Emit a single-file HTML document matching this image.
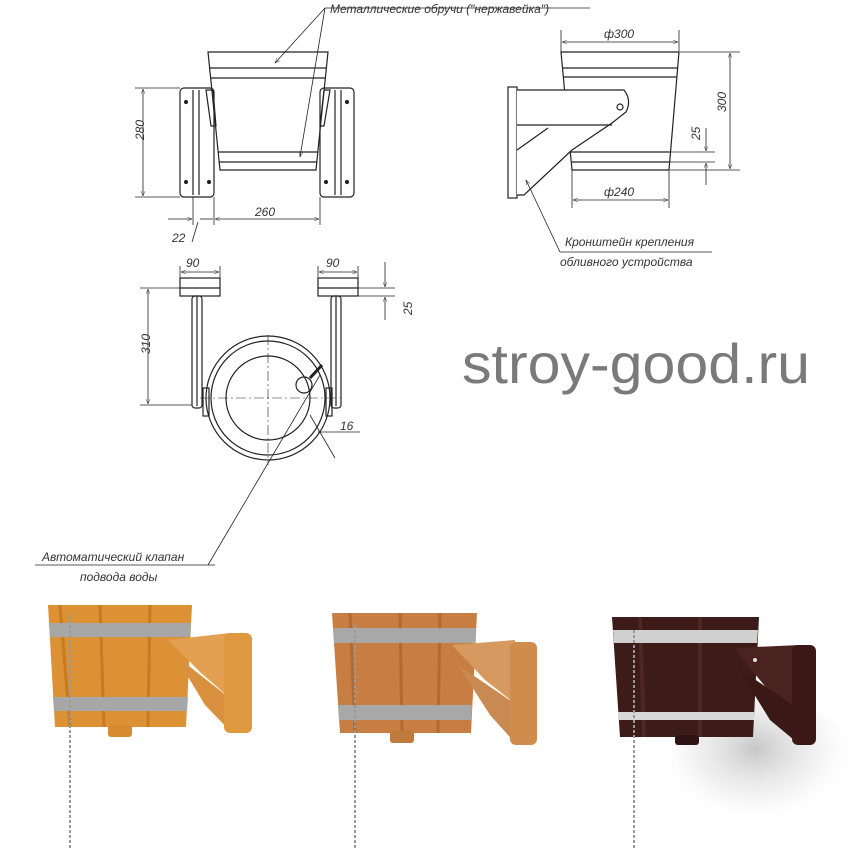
<!DOCTYPE html>
<html><head><meta charset="utf-8"><style>
html,body{margin:0;padding:0;background:#fff;}
svg{display:block}
.t{font-family:"Liberation Sans","DejaVu Sans",sans-serif;font-style:italic;fill:#333;}
</style></head><body>
<svg width="850" height="850" viewBox="0 0 850 850" xmlns="http://www.w3.org/2000/svg">
<defs>
<marker id="a" viewBox="0 0 10 10" refX="10" refY="5" markerWidth="10" markerHeight="6" orient="auto-start-reverse"><path d="M0,1 L10,5 L0,9" fill="none" stroke="#333" stroke-width="1"/></marker>
<radialGradient id="sh" cx="0.45" cy="0.35" r="0.55"><stop offset="0" stop-color="#999" stop-opacity="0.55"/><stop offset="0.6" stop-color="#ccc" stop-opacity="0.25"/><stop offset="1" stop-color="#fff" stop-opacity="0"/></radialGradient>
</defs>
<g fill="none" stroke="#222" stroke-width="1.2">
<!-- FRONT VIEW -->
<path d="M208,52 L328,52 L316,170 L220,170 Z"/>
<line x1="210" y1="68" x2="326" y2="68"/><line x1="211" y1="78" x2="325" y2="78"/>
<line x1="218" y1="152" x2="318" y2="152"/><line x1="219" y1="162" x2="317" y2="162"/>
<rect x="180" y="88" width="34" height="109" rx="4"/>
<line x1="193" y1="90" x2="193" y2="195"/><line x1="199" y1="90" x2="199" y2="195"/>
<rect x="320" y="88" width="34" height="109" rx="4"/>
<line x1="335" y1="90" x2="335" y2="195"/><line x1="341" y1="90" x2="341" y2="195"/>
<path d="M206,90 L213,90 L216,126 L211,126 Z"/><path d="M324,90 L330,90 L324,126 L320,126 Z"/>
<g fill="#222"><circle cx="186" cy="102" r="1.5"/><circle cx="186" cy="182" r="1.5"/><circle cx="209" cy="182" r="1.5"/><circle cx="347" cy="102" r="1.5"/><circle cx="326" cy="182" r="1.5"/><circle cx="347" cy="182" r="1.5"/></g>
<g stroke-width="0.8">
<line x1="135" y1="88" x2="180" y2="88"/><line x1="135" y1="197" x2="180" y2="197"/>
<line x1="143" y1="89" x2="143" y2="196" marker-start="url(#a)" marker-end="url(#a)"/>
<line x1="193" y1="197" x2="193" y2="225"/><line x1="214" y1="197" x2="214" y2="225"/><line x1="320" y1="197" x2="320" y2="225"/>
<line x1="215" y1="219" x2="319" y2="219" marker-start="url(#a)" marker-end="url(#a)"/>
<line x1="168" y1="219" x2="192" y2="219" marker-end="url(#a)"/>
<line x1="200" y1="219" x2="213" y2="219"/>
<line x1="198" y1="222" x2="192" y2="242"/>
<line x1="325" y1="8" x2="275" y2="63" marker-end="url(#a)"/>
<line x1="325" y1="8" x2="300" y2="157" marker-end="url(#a)"/>
<line x1="325" y1="8" x2="590" y2="8"/>
</g>
<!-- SIDE VIEW -->
<path d="M561,52 L679,52 L669,170 L572,170 Z"/>
<line x1="562" y1="68" x2="678" y2="68"/><line x1="563" y1="77" x2="677" y2="77"/>
<line x1="571" y1="152" x2="670" y2="152"/><line x1="572" y1="162" x2="669" y2="162"/>
<rect x="508" y="87" width="9" height="111" fill="#fff"/>
<path d="M517,90 L624,90 Q632,100 626,112 L612,123 L572,150 L524,195 L517,195" fill="#fff"/>
<line x1="517" y1="125" x2="612" y2="125"/><line x1="517" y1="150" x2="548" y2="128"/>
<circle cx="620" cy="107" r="3"/>
<g stroke-width="0.8">
<line x1="561" y1="30" x2="561" y2="52"/><line x1="679" y1="30" x2="679" y2="52"/>
<line x1="562" y1="42" x2="678" y2="42" marker-start="url(#a)" marker-end="url(#a)"/>
<line x1="680" y1="52" x2="740" y2="52"/><line x1="670" y1="170" x2="740" y2="170"/>
<line x1="730" y1="53" x2="730" y2="169" marker-start="url(#a)" marker-end="url(#a)"/>
<line x1="670" y1="152" x2="715" y2="152"/><line x1="670" y1="162" x2="715" y2="162"/>
<line x1="706" y1="128" x2="706" y2="151" marker-end="url(#a)"/><line x1="706" y1="185" x2="706" y2="163" marker-end="url(#a)"/>
<line x1="572" y1="170" x2="572" y2="208"/><line x1="669" y1="170" x2="669" y2="208"/>
<line x1="573" y1="200" x2="668" y2="200" marker-start="url(#a)" marker-end="url(#a)"/>
<line x1="560" y1="252" x2="526" y2="180" marker-end="url(#a)"/>
<line x1="560" y1="252" x2="712" y2="252"/>
</g>
<!-- TOP VIEW -->
<rect x="180" y="278" width="40" height="18"/><line x1="180" y1="288" x2="220" y2="288"/>
<rect x="318" y="278" width="40" height="18"/><line x1="318" y1="288" x2="358" y2="288"/>
<rect x="192" y="296" width="10" height="112" rx="3"/><line x1="197" y1="296" x2="197" y2="406"/>
<rect x="331" y="296" width="10" height="112" rx="3"/><line x1="336" y1="296" x2="336" y2="406"/>
<rect x="203" y="388" width="6" height="28"/><rect x="326" y="388" width="6" height="28"/>
<circle cx="268" cy="398" r="62"/><circle cx="268" cy="398" r="57"/><circle cx="268" cy="398" r="42"/>
<circle cx="304" cy="385" r="8"/><line x1="310" y1="378" x2="322" y2="365" stroke-width="3"/>
<g stroke-width="0.6" stroke-dasharray="10,3,2,3"><line x1="268" y1="335" x2="268" y2="465"/><line x1="200" y1="398" x2="340" y2="398"/></g>
<g stroke-width="0.8">
<line x1="140" y1="288" x2="180" y2="288"/><line x1="140" y1="405" x2="192" y2="405"/>
<line x1="148" y1="289" x2="148" y2="404" marker-start="url(#a)" marker-end="url(#a)"/>
<line x1="180" y1="266" x2="180" y2="278"/><line x1="220" y1="266" x2="220" y2="278"/>
<line x1="181" y1="272" x2="219" y2="272" marker-start="url(#a)" marker-end="url(#a)"/>
<line x1="318" y1="266" x2="318" y2="278"/><line x1="358" y1="266" x2="358" y2="278"/>
<line x1="319" y1="272" x2="357" y2="272" marker-start="url(#a)" marker-end="url(#a)"/>
<line x1="358" y1="288" x2="395" y2="288"/><line x1="358" y1="296" x2="395" y2="296"/>
<line x1="385" y1="262" x2="385" y2="287" marker-end="url(#a)"/><line x1="385" y1="320" x2="385" y2="297" marker-end="url(#a)"/>
<line x1="310" y1="415" x2="335" y2="458"/><line x1="318" y1="432" x2="360" y2="432"/>
<line x1="320" y1="375" x2="208" y2="565"/>
<line x1="35" y1="565" x2="215" y2="565"/>
</g>
</g>
<!-- labels -->
<text class="t" x="330" y="13" font-size="12">Металлические обручи ("нержавейка")</text>
<text class="t" x="148" y="152" font-size="12" transform="rotate(-90 140 148)">280</text>
<text class="t" x="255" y="216" font-size="12">260</text>
<text class="t" x="172" y="242" font-size="12">22</text>
<text class="t" x="604" y="38" font-size="12">ф300</text>
<text class="t" x="726" y="112" font-size="12" transform="rotate(-90 726 112)">300</text>
<text class="t" x="700" y="140" font-size="12" transform="rotate(-90 700 140)">25</text>
<text class="t" x="604" y="196" font-size="12">ф240</text>
<text class="t" x="565" y="246" font-size="12">Кронштейн крепления</text>
<text class="t" x="560" y="266" font-size="12">обливного устройства</text>
<text class="t" x="186" y="267" font-size="12">90</text>
<text class="t" x="326" y="267" font-size="12">90</text>
<text class="t" x="140" y="360" font-size="12" transform="rotate(-90 142 352)">310</text>
<text class="t" x="402" y="325" font-size="12" transform="rotate(-90 402 315)">25</text>
<text class="t" x="340" y="430" font-size="12">16</text>
<text class="t" x="42" y="561" font-size="12">Автоматический клапан</text>
<text class="t" x="80" y="581" font-size="12">подвода воды</text>
<text x="462" y="383" font-family="Liberation Sans, sans-serif" font-size="56" fill="#7a7a7a" textLength="348" lengthAdjust="spacingAndGlyphs">stroy-good.ru</text>
<!-- PHOTOS -->
<ellipse cx="765" cy="770" rx="95" ry="70" fill="url(#sh)"/>
<g>
<path d="M48,605 L192,605 L186,727 L55,727 Z" fill="#dc9234"/>
<path d="M60,605 L70,727 M100,605 L104,727 M150,605 L148,727" stroke="#c77a22" stroke-width="3"/>
<path d="M49,623 L191,623 L190,637 L50,637 Z" fill="#a7a7a7"/>
<path d="M53,697 L188,697 L187,711 L54,711 Z" fill="#a7a7a7"/>
<rect x="108" y="725" width="24" height="12" rx="3" fill="#d68a30"/>
<path d="M168,640 L230,633 L232,700 L200,672 Z" fill="#e3a052"/>
<path d="M175,655 L205,705 L232,733 L232,700 Z" fill="#d9913f"/>
<rect x="224" y="633" width="28" height="100" rx="6" fill="#dd9840"/>
<line x1="70" y1="615" x2="70" y2="850" stroke="#999" stroke-width="2" stroke-dasharray="3,2"/>
</g>
<g>
<path d="M332,613 L477,613 L471,733 L340,733 Z" fill="#c87e42"/>
<path d="M350,613 L355,733 M400,613 L402,733 M440,613 L438,733" stroke="#b36a30" stroke-width="3"/>
<path d="M333,628 L476,628 L475,643 L334,643 Z" fill="#a8a8a8"/>
<path d="M338,705 L472,705 L471,720 L339,720 Z" fill="#a8a8a8"/>
<rect x="390" y="731" width="24" height="12" rx="3" fill="#c07a3c"/>
<path d="M452,645 L515,640 L517,705 L485,680 Z" fill="#d69a60"/>
<path d="M458,665 L490,715 L517,745 L517,705 Z" fill="#c88a50"/>
<rect x="510" y="642" width="27" height="103" rx="6" fill="#cf8c4c"/>
<line x1="355" y1="625" x2="355" y2="850" stroke="#999" stroke-width="2" stroke-dasharray="3,2"/>
</g>
<g>
<path d="M612,617 L759,617 L753,737 L620,737 Z" fill="#3d1b18"/>
<path d="M640,617 L644,737 M700,617 L700,737" stroke="#4e2622" stroke-width="4"/>
<path d="M613,630 L758,630 L757,643 L614,643 Z" fill="#cfcfcf"/>
<path d="M618,712 L754,712 L754,720 L618,720 Z" fill="#d8d8d8"/>
<rect x="675" y="735" width="24" height="10" rx="3" fill="#2e1412"/>
<path d="M734,648 L800,645 L800,710 L768,690 Z" fill="#4a2220"/>
<path d="M738,668 L770,720 L800,745 L800,710 Z" fill="#3a1816"/>
<rect x="792" y="645" width="24" height="100" rx="6" fill="#3b1816"/>
<circle cx="755" cy="660" r="2" fill="#ddd"/>
<line x1="634" y1="630" x2="634" y2="850" stroke="#999" stroke-width="2" stroke-dasharray="3,2"/>
</g>
</svg>
</body></html>
